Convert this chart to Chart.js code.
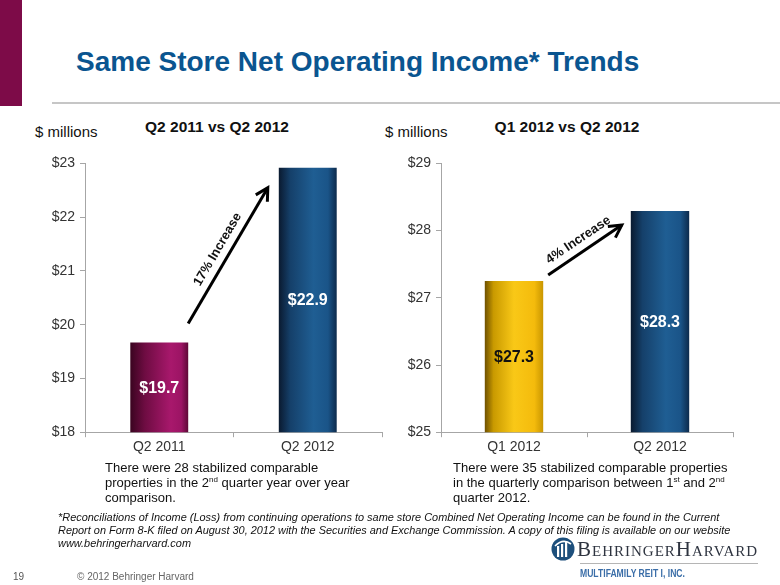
<!DOCTYPE html>
<html>
<head>
<meta charset="utf-8">
<script src="https://cdn.jsdelivr.net/npm/chart.js@4.4.1/dist/chart.umd.min.js"></script>
<style>
  html, body { margin: 0; padding: 0; background: #fff; }
  body { width: 780px; height: 585px; position: relative; overflow: hidden; font-family: Arial, "Liberation Sans", sans-serif; }
  .abs { position: absolute; white-space: nowrap; }
  #sideBar { left: 0; top: 0; width: 22px; height: 106px; background: #7d0b48; }
  #title { left: 76px; top: 48px; font-size: 28px; line-height: 28px; font-weight: bold; color: #0a5590; }
  #rule { left: 52px; top: 102px; width: 728px; height: 2px; background: #c6c6c6; }
  .units { font-size: 15px; line-height: 15px; color: #111; top: 124px; }
  .sub { font-size: 15.5px; line-height: 16px; font-weight: bold; color: #111; top: 119px; transform: translateX(-50%); }
  .note { font-size: 13px; line-height: 15px; color: #111; top: 460px; }
  .note sup { font-size: 8px; line-height: 0; vertical-align: 5px; }
  #foot { left: 58px; top: 511px; font-size: 11.5px; line-height: 13px; font-style: italic; color: #111; transform: scaleX(0.95); transform-origin: left top; }
  #page { left: 13px; top: 571px; font-size: 10px; color: #555; }
  #copy { left: 77px; top: 571px; font-size: 10px; color: #666; }
  #logoText { left: 577px; top: 538px; font-family: "Liberation Serif", "Times New Roman", serif; font-size: 21px; line-height: 22px; font-variant: small-caps; color: #2e3440; letter-spacing: 1px; }
  #logoRule { left: 580px; top: 563px; width: 178px; height: 1px; background: #b5b5b5; }
  #logoSub { left: 580px; top: 568px; font-size: 10px; line-height: 11px; font-weight: bold; color: #3b6ea8; transform: scaleX(0.86); transform-origin: left top; }
  #logoIcon { left: 551px; top: 537px; }
  canvas { position: absolute; }
</style>
</head>
<body>
<div class="abs" id="sideBar"></div>
<div class="abs" id="title">Same Store Net Operating Income* Trends</div>
<div class="abs" id="rule"></div>

<div class="abs units" style="left:35px">$ millions</div>
<div class="abs sub" style="left:217px">Q2 2011 vs Q2 2012</div>
<div class="abs units" style="left:385px">$ millions</div>
<div class="abs sub" style="left:567px">Q1 2012 vs Q2 2012</div>

<canvas id="chartLeft" width="360" height="320" style="left:40px; top:150px"></canvas>
<canvas id="chartRight" width="360" height="320" style="left:400px; top:150px"></canvas>

<div class="abs note" style="left:105px">There were 28 stabilized comparable<br>properties in the 2<sup>nd</sup> quarter year over year<br>comparison.</div>
<div class="abs note" style="left:453px">There were 35 stabilized comparable properties<br>in the quarterly comparison between 1<sup>st</sup> and 2<sup>nd</sup><br>quarter 2012.</div>

<div class="abs" id="foot">*Reconciliations of Income (Loss) from continuing operations to same store Combined Net Operating Income can be found in the Current<br>Report on Form 8-K filed on August 30, 2012 with the Securities and Exchange Commission. A copy of this filing is available on our website<br>www.behringerharvard.com</div>

<svg class="abs" id="logoIcon" width="24" height="24" viewBox="0 0 24 24">
  <circle cx="12" cy="12" r="11.5" fill="#1d4f7c"/>
  <rect x="6" y="9" width="2.2" height="11" fill="#fff"/>
  <rect x="10" y="7" width="2.2" height="13" fill="#fff"/>
  <rect x="14" y="5" width="2.2" height="15" fill="#fff"/>
  <path d="M4 9 Q12 1 20 7" stroke="#fff" stroke-width="1.6" fill="none"/>
</svg>
<div class="abs" id="logoText">BehringerHarvard</div>
<div class="abs" id="logoRule"></div>
<div class="abs" id="logoSub">MULTIFAMILY REIT I, INC.</div>

<div class="abs" id="page">19</div>
<div class="abs" id="copy">© 2012 Behringer Harvard</div>

<script>
// chart data ($ millions)
const leftCategories = ['Q2 2011', 'Q2 2012'];
const leftValues = [19.67, 22.92];
const leftLabels = ['$19.7', '$22.9'];
const leftAxis = [18, 23];

const rightCategories = ['Q1 2012', 'Q2 2012'];
const rightValues = [27.25, 28.29];
const rightLabels = ['$27.3', '$28.3'];
const rightAxis = [25, 29];

const leftArrowText = '17% Increase';
const rightArrowText = '4% Increase';

Chart.defaults.font.family = 'Arial, "Liberation Sans", sans-serif';
Chart.defaults.color = '#333';

// cylinder-like shading across each bar
const maroonStops = [[0, '#3a0420'], [0.25, '#6e0c42'], [0.7, '#a8186c'], [0.88, '#9c1464'], [1, '#5e0836']];
const blueStops = [[0, '#0a1a30'], [0.2, '#15406a'], [0.6, '#1f5e93'], [0.85, '#1a5488'], [1, '#0c2a4c']];
const goldStops = [[0, '#6e5000'], [0.15, '#c99a00'], [0.5, '#f9c817'], [0.85, '#f4bb0c'], [1, '#c99600']];

function barFill(stopSets, barPct) {
    return function (ctx) {
        var chart = ctx.chart;
        var stops = stopSets[ctx.dataIndex];
        if (!chart.chartArea) return stops[2][1];
        var xs = chart.scales.x;
        var cx = xs.getPixelForValue(ctx.dataIndex);
        var w = xs.width / chart.data.labels.length * barPct;
        var g = chart.ctx.createLinearGradient(cx - w / 2, 0, cx + w / 2, 0);
        stops.forEach(function (s) { g.addColorStop(s[0], s[1]); });
        return g;
    };
}

// value labels in the middle of each bar + arrow between the bars
function overlay(labels, colors, arrow) {
    return {
        id: 'overlay',
        afterDatasetsDraw(chart) {
            var ctx = chart.ctx;
            var bars = chart.getDatasetMeta(0).data;
            var bottom = chart.scales.y.getPixelForValue(chart.scales.y.min);

            ctx.save();
            ctx.font = 'bold 16px Arial, "Liberation Sans", sans-serif';
            ctx.textAlign = 'center';
            ctx.textBaseline = 'middle';
            for (var i = 0; i < bars.length; i++) {
                ctx.fillStyle = colors[i];
                ctx.fillText(labels[i], bars[i].x, (bars[i].y + bottom) / 2 + 1);
            }
            ctx.restore();

            var a = bars[0], b = bars[1];
            var x1 = a.x + a.width / 2 + arrow.tail[0], y1 = a.y + arrow.tail[1];
            var x2 = b.x - b.width / 2 + arrow.head[0], y2 = b.y + arrow.head[1];
            var ang = Math.atan2(y2 - y1, x2 - x1);
            var len = Math.hypot(x2 - x1, y2 - y1);
            ctx.save();
            ctx.strokeStyle = '#000';
            ctx.lineWidth = 3;
            ctx.beginPath();
            ctx.moveTo(x1, y1);
            ctx.lineTo(x2, y2);
            ctx.stroke();
            var hl = 14, ha = 0.5;
            ctx.beginPath();
            ctx.moveTo(x2 - hl * Math.cos(ang - ha), y2 - hl * Math.sin(ang - ha));
            ctx.lineTo(x2, y2);
            ctx.lineTo(x2 - hl * Math.cos(ang + ha), y2 - hl * Math.sin(ang + ha));
            ctx.stroke();
            // text sits on the upper-left side of the arrow
            var mx = (x1 + x2) / 2 + 12 * (y2 - y1) / len;
            var my = (y1 + y2) / 2 - 12 * (x2 - x1) / len;
            ctx.translate(mx, my);
            ctx.rotate(ang);
            ctx.font = 'bold 13px Arial, "Liberation Sans", sans-serif';
            ctx.fillStyle = '#111';
            ctx.textAlign = 'center';
            ctx.textBaseline = 'middle';
            ctx.fillText(arrow.text, 0, 0);
            ctx.restore();
        }
    };
}

function makeChart(id, categories, values, range, stops, labels, labelColors, arrow, yWidth, padRight, barPct) {
    var ctr = document.getElementById(id);
    return new Chart(ctr, {
        type: 'bar',
        data: {
            labels: categories,
            datasets: [{
                data: values,
                backgroundColor: barFill(stops, barPct),
                borderWidth: 0,
                barPercentage: barPct,
                categoryPercentage: 1
            }]
        },
        options: {
            responsive: false,
            animation: false,
            devicePixelRatio: 1,
            layout: { padding: { top: 12, right: padRight, bottom: 12, left: 0 } },
            plugins: {
                legend: { display: false },
                tooltip: { enabled: false }
            },
            scales: {
                x: {
                    grid: { drawOnChartArea: false, drawTicks: true, tickLength: 5, color: '#a6a6a6', offset: true },
                    border: { color: '#a6a6a6', width: 1 },
                    ticks: { font: { size: 14 }, color: '#333', padding: 2 }
                },
                y: {
                    min: range[0],
                    max: range[1],
                    afterFit: function (s) { s.width = yWidth; },
                    grid: { drawOnChartArea: false, drawTicks: true, tickLength: 5, color: '#a6a6a6' },
                    border: { color: '#a6a6a6', width: 1 },
                    ticks: {
                        stepSize: 1,
                        font: { size: 14 },
                        color: '#333',
                        padding: 5,
                        callback: function (v) { return '$' + v; }
                    }
                }
            }
        },
        plugins: [overlay(labels, labelColors, arrow)]
    });
}

makeChart('chartLeft', leftCategories, leftValues, leftAxis, [maroonStops, blueStops],
    leftLabels, ['#fff', '#fff'], { tail: [0, -19], head: [-11, 20], text: leftArrowText }, 45, 18, 0.39);

makeChart('chartRight', rightCategories, rightValues, rightAxis, [goldStops, blueStops],
    rightLabels, ['#111', '#fff'], { tail: [5, -6], head: [-9, 14], text: rightArrowText }, 41, 27, 0.4);
</script>
</body>
</html>
